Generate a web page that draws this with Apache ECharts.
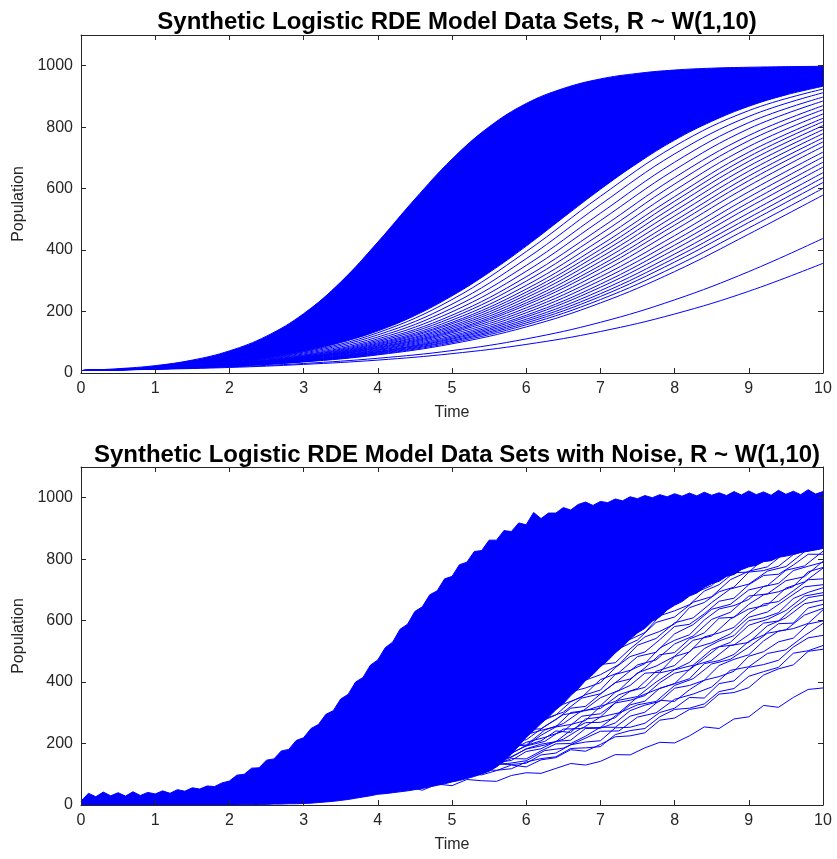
<!DOCTYPE html>
<html>
<head>
<meta charset="utf-8">
<script src="https://cdn.jsdelivr.net/npm/echarts@6/dist/echarts.min.js"></script>
<style>
html,body{margin:0;padding:0;background:#fff;}
#chart{width:837px;height:859px;}
</style>
</head>
<body>
<div id="chart"></div>
<script>
// ---------- time grids ----------
const TIME_COARSE = [0,1,2,3,4,5,6,7,8,9,10];
const TIME_HALF = [0,0.5,1,1.5,2,2.5,3,3.5,4,4.5,5,5.5,6,6.5,7,7.5,8,8.5,9,9.5,10];
const TIME_QUARTER = [0,0.25,0.5,0.75,1,1.25,1.5,1.75,2,2.25,2.5,2.75,3,3.25,3.5,3.75,4,4.25,4.5,4.75,5,5.25,5.5,5.75,6,6.25,6.5,6.75,7,7.25,7.5,7.75,8,8.25,8.5,8.75,9,9.25,9.5,9.75,10];
const TIME_FIFTH = [0,0.2,0.4,0.6,0.8,1,1.2,1.4,1.6,1.8,2,2.2,2.4,2.6,2.8,3,3.2,3.4,3.6,3.8,4,4.2,4.4,4.6,4.8,5,5.2,5.4,5.6,5.8,6,6.2,6.4,6.6,6.8,7,7.2,7.4,7.6,7.8,8,8.2,8.4,8.6,8.8,9,9.2,9.4,9.6,9.8,10];
const TIME_TENTH = [0,0.1,0.2,0.3,0.4,0.5,0.6,0.7,0.8,0.9,1,1.1,1.2,1.3,1.4,1.5,1.6,1.7,1.8,1.9,2,2.1,2.2,2.3,2.4,2.5,2.6,2.7,2.8,2.9,3,3.1,3.2,3.3,3.4,3.5,3.6,3.7,3.8,3.9,4,4.1,4.2,4.3,4.4,4.5,4.6,4.7,4.8,4.9,5,5.1,5.2,5.3,5.4,5.5,5.6,5.7,5.8,5.9,6,6.1,6.2,6.3,6.4,6.5,6.6,6.7,6.8,6.9,7,7.1,7.2,7.3,7.4,7.5,7.6,7.7,7.8,7.9,8,8.1,8.2,8.3,8.4,8.5,8.6,8.7,8.8,8.9,9,9.1,9.2,9.3,9.4,9.5,9.6,9.7,9.8,9.9,10];

// ---------- tick labels ----------
const X_TICKS = [0,1,2,3,4,5,6,7,8,9,10];
const Y_TICKS = [0,200,400,600,800,1000];

// ---------- top panel: dense core (upper / lower envelope of the solid mass) ----------
const TOP_CORE_HIGH = [8,14,24,42,72,120,193,296,426,566,696,801,877,926,957,975,986,992,995,997,998];
const TOP_CORE_LOW  = [8,12,17,24,35,49,70,99,137,187,251,327,413,506,598,683,758,819,868,905,933];

// ---------- top panel: individual slower curves (values at t = 0..10) ----------
const TOP_C01 = [8,12,18,28,42,63,93,135,192,266,357];
const TOP_C02 = [8,13,20,31,48,73,111,165,238,330,438];
const TOP_C03 = [8,13,22,36,59,95,150,228,330,452,579];
const TOP_C04 = [8,13,22,37,61,99,157,239,346,472,601];
const TOP_C05 = [8,13,23,38,63,103,163,249,361,490,620];
const TOP_C06 = [8,14,23,39,65,106,169,258,374,505,636];
const TOP_C07 = [8,14,23,40,67,110,175,268,387,521,652];
const TOP_C08 = [8,14,24,41,69,113,182,279,402,539,670];
const TOP_C09 = [8,14,24,42,70,117,188,289,416,555,686];
const TOP_C10 = [8,14,25,42,73,121,196,301,431,572,703];
const TOP_C11 = [8,14,25,43,75,126,204,313,447,590,719];
const TOP_C12 = [8,14,25,45,77,131,212,326,465,609,737];
const TOP_C13 = [8,14,26,46,80,135,221,339,481,626,752];
const TOP_C14 = [8,15,26,47,82,139,228,350,495,641,765];
const TOP_C15 = [8,15,27,48,84,144,236,363,511,657,779];
const TOP_C16 = [8,15,27,49,87,149,245,376,527,673,792];
const TOP_C17 = [8,15,27,50,89,154,254,389,543,689,805];
const TOP_C18 = [8,15,28,51,92,160,263,402,559,704,818];
const TOP_C19 = [8,15,28,52,95,165,273,416,574,719,829];
const TOP_C20 = [8,15,29,54,98,172,285,433,594,737,843];
const TOP_C21 = [8,15,29,55,102,180,299,452,615,756,857];
const TOP_C22 = [8,16,30,57,106,188,313,471,636,773,870];
const TOP_C23 = [8,16,31,59,111,199,331,496,661,795,885];
const TOP_C24 = [8,16,32,62,117,211,350,520,686,815,898];
const TOP_C25 = [8,16,33,65,124,224,372,548,713,835,912];
const TOP_C26 = [8,17,34,68,131,239,395,575,738,854,924];

// ---------- bottom panel: noisy dense core (values at t = 0, 0.1, ..., 10) ----------
const NOISY_CORE_HIGH = [12,38,27,42,30,40,29,43,31,41,
36,46,38,50,45,56,52,62,60,72,
78,97,100,120,121,146,150,176,181,210,
219,249,262,295,307,345,360,400,415,455,
472,512,530,572,588,630,645,684,697,736,
744,782,790,825,828,862,862,893,890,918,
912,952,932,950,950,968,960,978,986,975,
988,984,996,990,1003,997,1007,1000,1010,1003,
1013,1005,1015,1006,1018,1008,1016,1007,1020,1009,
1022,1010,1019,1008,1024,1011,1021,1010,1026,1012,
1020];
const NOISY_CORE_LOW = [0,0,0,0,0,0,0,0,0,0,
0,0,0,0,0,0,0,0,0,0,
0,0,1,1,2,2,3,3,4,4,
5,6,8,10,12,15,18,22,26,30,
35,37,40,43,46,50,54,59,64,69,
75,80,86,93,101,110,124,142,165,192,
220,242,265,286,310,330,356,378,405,425,
450,470,495,515,540,560,575,598,612,635,
650,662,680,690,708,720,728,744,750,766,
775,780,792,795,806,810,815,822,826,830,
835];

// ---------- bottom panel: individual noisy curves sampled every 0.2 ----------
const NOISY_C01 = [10,3,18,7,1,17,15,8,22,28,17,13,27,20,35,30,26,44,35,33,48,48,60,48,68,63,83,79,77,96,105,103,119,135,130,142,164,163,186,204,202,225,254,249,280,287,324,318,350,376,381];
const NOISY_C02 = [3,17,11,5,21,10,7,20,17,26,11,30,22,38,30,25,41,48,40,51,62,53,62,77,70,86,101,98,112,130,124,147,154,180,175,197,222,225,235,276,283,311,319,361,366,382,423,443,456,500,507];
const NOISY_C03 = [11,15,4,12,20,6,11,21,10,22,29,19,26,38,26,38,36,52,39,52,61,57,58,81,80,91,91,114,113,118,140,151,157,184,186,190,229,242,249,287,311,315,329,369,379,419,434,448,494,502,519];
const NOISY_C04 = [8,18,4,15,10,23,7,18,24,16,12,31,26,34,27,44,37,37,54,55,52,72,67,68,90,93,95,119,133,132,136,163,169,196,205,209,251,253,266,301,315,350,348,395,404,448,457,471,514,544,552];
const NOISY_C05 = [1,15,20,9,4,17,10,25,20,15,32,23,21,35,33,44,32,53,48,67,61,60,80,91,86,101,120,116,131,151,150,176,199,200,224,253,253,289,302,341,337,375,406,418,435,484,499,531,543,589,599];
const NOISY_C06 = [15,0,16,7,22,13,7,20,25,15,24,34,22,29,41,31,46,57,49,59,73,66,85,87,107,97,118,136,138,145,174,183,207,211,249,250,267,307,325,337,380,389,406,454,474,489,534,566,574,591,635];
const NOISY_C07 = [4,14,2,13,21,9,16,27,14,26,22,37,22,35,43,36,35,58,55,66,61,84,82,86,107,113,118,146,147,155,183,198,206,243,268,269,284,326,338,380,395,411,460,470,490,533,553,590,592,641,653];
const NOISY_C08 = [4,0,17,10,17,8,24,15,13,27,26,22,39,31,28,47,49,46,65,75,69,72,94,94,117,119,126,156,158,168,194,209,241,236,280,286,332,341,356,398,429,440,477,515,521,554,592,599,641,675,683];
const NOISY_C09 = [17,6,2,15,12,21,6,24,16,33,24,19,35,42,34,44,58,49,58,73,67,87,103,100,115,134,135,160,170,197,192,227,254,262,275,321,337,370,383,430,441,464,509,534,551,600,609,626,672,692,707];
const NOISY_C10 = [12,7,20,4,14,20,13,9,28,22,30,24,41,34,34,50,54,53,73,68,69,95,102,105,129,144,149,160,188,194,229,243,255,301,307,323,367,389,429,432,483,498,547,560,578,624,654,662,697,733,736];
const NOISY_C11 = [4,0,16,13,6,21,27,17,14,28,21,38,35,33,52,44,46,66,68,83,73,101,103,128,129,133,163,184,191,216,245,248,278,315,321,361,398,410,446,489,496,540,560,608,611,653,684,694,711,759,773];
const NOISY_C12 = [18,8,2,15,19,9,18,28,15,21,32,24,38,48,40,49,66,59,76,78,98,93,115,132,135,142,179,190,216,222,262,272,293,336,359,374,425,438,460,511,536,554,602,638,649,669,711,721,763,777,790];
const NOISY_C13 = [7,13,5,20,11,8,23,22,17,33,24,23,42,43,40,58,70,67,69,89,89,115,122,129,158,160,176,210,226,258,254,305,320,368,381,398,447,483,498,538,581,588,622,663,673,717,747,751,781,816,816];
const NOISY_C14 = [0,13,6,20,15,9,27,18,16,30,28,41,29,50,45,64,62,63,85,97,94,116,138,139,157,181,191,225,256,261,291,334,342,388,409,457,463,508,547,565,589,642,659,694,709,758,763,777,815,831,841];
const NOISY_C15 = [10,18,6,13,23,10,23,19,34,19,31,41,37,36,59,56,71,71,94,93,99,127,141,149,180,184,199,245,264,278,322,360,373,396,445,464,515,539,561,616,632,652,696,717,756,758,800,806,845,849,857];
const NOISY_C16 = [5,3,16,15,8,24,15,12,30,29,24,43,53,47,47,65,67,91,94,98,124,130,144,174,188,217,219,269,283,330,341,364,414,453,469,512,556,567,606,651,665,706,740,749,782,821,816,848,857,892,883];
const NOISY_C17 = [18,8,4,17,10,24,21,17,35,27,25,43,45,59,49,71,73,100,101,105,129,152,161,188,220,218,253,295,306,351,389,406,449,497,511,561,585,636,642,688,727,737,753,802,815,845,847,882,881,890,922];
const NOISY_C18 = [2,11,20,7,11,22,13,26,36,26,35,51,43,61,62,81,77,99,118,121,129,169,184,214,224,267,284,311,362,391,413,470,490,518,576,607,628,679,716,730,753,793,802,841,854,864,899,894,900,928,935];

// ---------- bottom panel: more noisy curves sampled every 0.25 ----------
const NOISY_Q01 = [4,17,10,22,7,19,9,25,22,18,37,30,42,32,52,53,69,63,80,79,103,105,133,135,144,177,185,212,240,241,286,300,344,361,384,438,450,493,505,551,591];
const NOISY_Q02 = [15,5,21,10,7,22,14,22,31,17,35,31,47,45,47,69,63,81,78,99,114,116,144,151,182,195,214,251,252,299,326,337,389,411,459,474,514,559,570,618,640];
const NOISY_Q03 = [13,1,12,18,6,19,13,30,23,24,40,29,45,50,45,68,67,89,87,104,123,125,154,163,192,207,247,249,286,300,351,375,395,453,471,519,529,583,609,655,667];
const NOISY_Q04 = [8,2,19,10,20,7,24,21,34,23,36,30,49,46,68,63,66,91,92,110,129,130,163,173,204,220,240,289,297,341,353,400,440,455,506,529,585,604,633,680,691];
const NOISY_Q05 = [12,12,1,19,12,25,15,23,33,23,39,36,52,51,70,62,79,81,108,116,121,157,167,196,195,244,265,307,314,359,379,435,454,510,528,557,611,628,669,710,717];
const NOISY_Q06 = [12,9,20,7,16,9,27,19,36,29,29,47,41,56,71,62,85,91,117,123,132,170,179,210,212,256,294,304,349,373,430,452,484,536,550,605,638,651,706,726,771];
const NOISY_Q07 = [9,18,1,17,11,26,20,18,37,29,42,34,49,63,59,79,79,110,115,128,154,163,198,221,226,281,302,348,362,407,456,472,524,550,604,627,680,687,730,743,793];
const NOISY_Q08 = [0,13,6,22,14,14,28,16,32,35,29,51,49,69,66,81,99,100,128,136,165,182,199,238,246,300,328,351,408,431,483,497,557,587,637,653,700,714,764,778,826];
const NOISY_Q09 = [11,1,17,13,7,27,19,31,19,39,40,56,47,66,67,93,93,125,131,144,175,192,227,263,266,322,347,402,424,457,520,542,593,609,659,703,719,761,776,824,837];
const NOISY_Q10 = [16,9,6,24,12,24,14,27,36,28,46,43,65,67,76,98,95,127,145,152,188,209,253,265,302,353,370,423,451,509,537,594,612,660,678,733,761,775,823,832,870];
const NOISY_Q11 = [3,10,20,7,20,15,31,26,41,32,48,43,64,72,77,105,107,138,144,179,196,225,277,292,317,376,402,451,501,518,578,609,668,688,714,771,786,820,823,860,891];
const NOISY_Q12 = [10,2,19,10,26,18,17,34,27,41,55,45,67,73,99,104,113,153,164,196,202,252,295,311,361,392,456,485,524,580,600,659,697,711,766,786,832,835,862,895,893];
const NOISY_Q13 = [4,17,4,18,19,11,31,27,42,37,50,67,60,87,95,122,129,167,178,214,224,283,315,342,404,433,491,512,578,612,667,686,738,752,804,818,867,867,878,913,916];

const TOP_CURVES = [TOP_C01,TOP_C02,TOP_C03,TOP_C04,TOP_C05,TOP_C06,TOP_C07,TOP_C08,TOP_C09,TOP_C10,TOP_C11,TOP_C12,TOP_C13,TOP_C14,TOP_C15,TOP_C16,TOP_C17,TOP_C18,TOP_C19,TOP_C20,TOP_C21,TOP_C22,TOP_C23,TOP_C24,TOP_C25,TOP_C26];
const NOISY_CURVES = [NOISY_C01,NOISY_C02,NOISY_C03,NOISY_C04,NOISY_C05,NOISY_C06,NOISY_C07,NOISY_C08,NOISY_C09,NOISY_C10,NOISY_C11,NOISY_C12,NOISY_C13,NOISY_C14,NOISY_C15,NOISY_C16,NOISY_C17,NOISY_C18];
const NOISY_CURVES_Q = [NOISY_Q01,NOISY_Q02,NOISY_Q03,NOISY_Q04,NOISY_Q05,NOISY_Q06,NOISY_Q07,NOISY_Q08,NOISY_Q09,NOISY_Q10,NOISY_Q11,NOISY_Q12,NOISY_Q13];

// ---------- styling ----------
const BLUE = '#0000ff';
const AX = '#262626';
const FONT = '"Liberation Sans", Arial, Helvetica, sans-serif';
const TITLES = ['Synthetic Logistic RDE Model Data Sets, R ~ W(1,10)',
                'Synthetic Logistic RDE Model Data Sets with Noise, R ~ W(1,10)'];
const X_NAME = 'Time';
const Y_NAME = 'Population';

function pairs(times, vals) { return vals.map((v, i) => [times[i], v]); }

const grids = [
  { left: 81, width: 742, top: 35, height: 338 },
  { left: 81, width: 742, top: 467, height: 338 }
];

const xAxes = [], yAxes = [];
[0, 1].forEach(g => {
  const baseX = {
    type: 'value', gridIndex: g, min: X_TICKS[0], max: X_TICKS[X_TICKS.length - 1], interval: 1, z: 5,
    axisLine: { show: true, onZero: false, lineStyle: { color: AX, width: 1 } },
    axisTick: { show: true, inside: true, length: 5, lineStyle: { color: AX } },
    splitLine: { show: false }
  };
  xAxes.push(Object.assign({}, baseX, {
    position: 'bottom',
    axisLabel: { show: true, color: AX, fontSize: 16, fontFamily: FONT, margin: 8 },
    name: X_NAME, nameLocation: 'middle', nameGap: 32,
    nameTextStyle: { color: AX, fontSize: 16, fontFamily: FONT }
  }));
  xAxes.push(Object.assign({}, baseX, { position: 'top', axisLabel: { show: false } }));
  const baseY = {
    type: 'value', gridIndex: g, min: 0, max: 1100, interval: 200, z: 5,
    axisLine: { show: true, onZero: false, lineStyle: { color: AX, width: 1 } },
    axisTick: { show: true, inside: true, length: 5, lineStyle: { color: AX } },
    splitLine: { show: false }
  };
  yAxes.push(Object.assign({}, baseY, {
    position: 'left',
    axisLabel: { show: true, color: AX, fontSize: 16, fontFamily: FONT, margin: 8, showMaxLabel: false,
      formatter: v => (Y_TICKS.indexOf(v) >= 0 ? String(v) : '') },
    name: Y_NAME, nameLocation: 'middle', nameGap: 52, nameRotate: 90,
    nameTextStyle: { color: AX, fontSize: 16, fontFamily: FONT }
  }));
  yAxes.push(Object.assign({}, baseY, { position: 'right', axisLabel: { show: false } }));
});

const series = [];
function lineSeries(g, data, extra) {
  return Object.assign({
    type: 'line', xAxisIndex: g * 2, yAxisIndex: g * 2, data: data,
    showSymbol: false, symbol: 'none', silent: true,
    lineStyle: { color: BLUE, width: 1 }, itemStyle: { color: BLUE }
  }, extra || {});
}
// top panel: core = blue area under upper envelope, then white area under lower envelope,
// then the individual slower curves on top.
series.push(lineSeries(0, pairs(TIME_HALF, TOP_CORE_HIGH), { smooth: 0.4, areaStyle: { color: BLUE, opacity: 1, origin: 'start' } }));
series.push(lineSeries(0, pairs(TIME_HALF, TOP_CORE_LOW), { smooth: 0.4, areaStyle: { color: '#ffffff', opacity: 1, origin: 'start' } }));
TOP_CURVES.forEach(c => series.push(lineSeries(0, pairs(TIME_COARSE, c), { smooth: 0.4 })));
// bottom panel
series.push(lineSeries(1, pairs(TIME_TENTH, NOISY_CORE_HIGH), { areaStyle: { color: BLUE, opacity: 1, origin: 'start' } }));
series.push(lineSeries(1, pairs(TIME_TENTH, NOISY_CORE_LOW), { areaStyle: { color: '#ffffff', opacity: 1, origin: 'start' } }));
NOISY_CURVES.forEach(c => series.push(lineSeries(1, pairs(TIME_FIFTH, c))));
NOISY_CURVES_Q.forEach(c => series.push(lineSeries(1, pairs(TIME_QUARTER, c))));

const option = {
  animation: false,
  backgroundColor: '#ffffff',
  title: [
    { text: TITLES[0], left: 452, top: 5, textAlign: 'center',
      textStyle: { fontSize: 24, fontWeight: 'bold', color: '#000', fontFamily: FONT } },
    { text: TITLES[1], left: 452, top: 438, textAlign: 'center',
      textStyle: { fontSize: 24, fontWeight: 'bold', color: '#000', fontFamily: FONT } }
  ],
  grid: grids,
  xAxis: xAxes,
  yAxis: yAxes,
  series: series
};

const chart = echarts.init(document.getElementById('chart'), null, { renderer: 'canvas' });
chart.setOption(option);
</script>
</body>
</html>
